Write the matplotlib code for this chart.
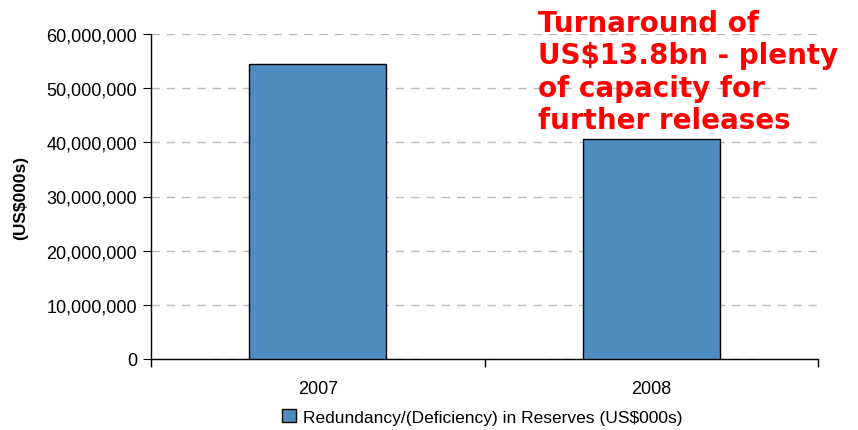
import matplotlib
matplotlib.use("Agg")
import matplotlib.pyplot as plt
from matplotlib.ticker import FuncFormatter, FixedLocator

categories = ["2007", "2008"]
values = [54500000, 40600000]
series_name = "Redundancy/(Deficiency) in Reserves (US$000s)"
annotation = "Turnaround of\nUS$13.8bn - plenty\nof capacity for\nfurther releases"

plt.rcParams['font.family'] = ['Liberation Sans', 'DejaVu Sans']

fig = plt.figure(figsize=(8.58, 4.31), dpi=100)
ax = fig.add_axes([151/858, 1-360/431, 667/858, 325/431])

x = list(range(len(categories)))
ax.bar(x, values, width=0.41, color="#4F8BC0", edgecolor="black", linewidth=1.0,
       label=series_name, zorder=3)
ax.set_xlim(-0.5, len(categories) - 0.5)
ax.set_ylim(0, 60000000)
ax.yaxis.set_major_locator(FixedLocator([i * 10000000 for i in range(7)]))
ax.yaxis.set_major_formatter(FuncFormatter(lambda v, p: f"{int(v):,}"))
ax.set_xticks(x)
ax.set_xticklabels(categories)
ax.xaxis.set_minor_locator(FixedLocator([-0.5, 0.5, 1.5]))
ax.tick_params(axis='x', which='major', length=0, pad=15, labelsize=13)
ax.tick_params(axis='x', which='minor', length=6, direction='out', width=1)
ax.tick_params(axis='y', length=6, direction='out', labelsize=13, pad=4)
ax.grid(axis='y', color="#bbbbbb", linestyle=(0, (6, 5)), linewidth=1, zorder=0)
for s in ['top', 'right']:
    ax.spines[s].set_visible(False)
ax.spines['left'].set_linewidth(1)
ax.spines['bottom'].set_linewidth(1)
ax.set_ylabel("(US$000s)", fontweight='bold', fontsize=12.5)
ax.yaxis.set_label_coords((28 - 151) / 667, 0.5)

leg = fig.legend(loc='center', bbox_to_anchor=(482/858, 1-418/431), frameon=False,
                 fontsize=12.5, handlelength=0.8, handleheight=0.8, handletextpad=0.4)

fig.text(538/858, 1-10/431, annotation, color="#ff0000", fontsize=20, fontweight='bold',
         family=['DejaVu Sans'], va='top', ha='left', linespacing=1.2)

fig.savefig("out.png", dpi=100)
